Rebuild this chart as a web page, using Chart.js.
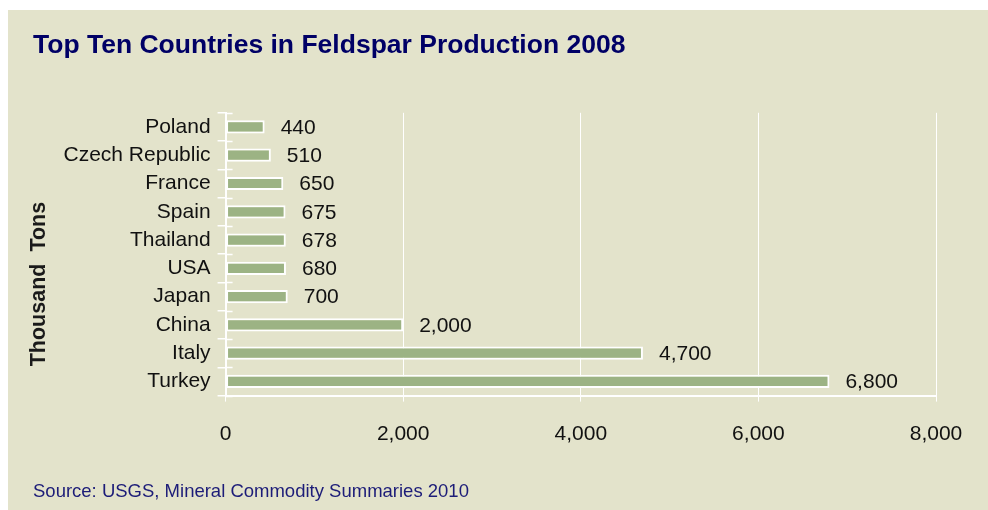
<!DOCTYPE html>
<html>
<head>
<meta charset="utf-8">
<script src="https://cdn.jsdelivr.net/npm/chart.js@4"></script>
<style>
  body { margin: 0; background: #ffffff; }
  #wrap { position: absolute; left: 8px; top: 10px; width: 980px; height: 500px; background: #E3E3CB; }
</style>
</head>
<body>
<div id="wrap"><canvas id="feldsparChart" width="980" height="500"></canvas></div>
<script>
// Feldspar production 2008, thousand tons
const countries = ["Poland", "Czech Republic", "France", "Spain", "Thailand", "USA", "Japan", "China", "Italy", "Turkey"];
const production = [440, 510, 650, 675, 678, 680, 700, 2000, 4700, 6800];
const xTicks = [0, 2000, 4000, 6000, 8000];

const FONT = "'Liberation Sans', Arial, sans-serif";

// value labels to the right of each bar
const valueLabels = {
  id: 'valueLabels',
  afterDatasetsDraw(chart) {
    const ctx = chart.ctx;
    const meta = chart.getDatasetMeta(0);
    ctx.save();
    ctx.font = '21px ' + FONT;
    ctx.fillStyle = '#111111';
    ctx.textAlign = 'left';
    ctx.textBaseline = 'middle';
    meta.data.forEach((bar, i) => {
      ctx.fillText(production[i].toLocaleString('en-US'), bar.x + 16, bar.y + 1);
    });
    ctx.restore();
  }
};

// small tick marks that cross into the plot on the category axis
const crossTicks = {
  id: 'crossTicks',
  afterDraw(chart) {
    const y = chart.scales.y;
    const ctx = chart.ctx;
    const band = (y.bottom - y.top) / countries.length;
    ctx.save();
    ctx.strokeStyle = '#ffffff';
    ctx.lineWidth = 1.5;
    for (let i = 0; i <= countries.length; i++) {
      const py = Math.round(y.top + i * band) + 0.5;
      ctx.beginPath();
      ctx.moveTo(chart.chartArea.left, py);
      ctx.lineTo(chart.chartArea.left + 7, py);
      ctx.stroke();
    }
    ctx.restore();
  }
};

new Chart(document.getElementById('feldsparChart'), {
  type: 'bar',
  data: {
    labels: countries,
    datasets: [{
      data: production,
      backgroundColor: '#9CB384',
      borderColor: '#ffffff',
      borderWidth: 2,
      borderSkipped: false,
      barPercentage: 0.9,
      categoryPercentage: 0.52
    }]
  },
  options: {
    indexAxis: 'y',
    responsive: false,
    animation: false,
    layout: { padding: { left: 25, right: 52, top: 0, bottom: 7 } },
    plugins: {
      legend: { display: false },
      tooltip: { enabled: false },
      title: {
        display: true,
        text: 'Top Ten Countries in Feldspar Production 2008',
        align: 'start',
        color: '#000066',
        font: { family: FONT, size: 26.5, weight: 'bold' },
        padding: { top: 20, bottom: 51 }
      },
      subtitle: {
        display: true,
        position: 'bottom',
        text: 'Source: USGS, Mineral Commodity Summaries 2010',
        align: 'start',
        color: '#1C1C78',
        font: { family: FONT, size: 18.5 },
        padding: { top: 14, bottom: 0 }
      }
    },
    scales: {
      x: {
        min: 0,
        max: 8000,
        afterBuildTicks(scale) { scale.ticks = xTicks.map(v => ({ value: v })); },
        ticks: {
          color: '#111111',
          font: { family: FONT, size: 21 },
          padding: 20,
          maxRotation: 0,
          callback: v => v.toLocaleString('en-US')
        },
        grid: {
          color: '#ffffff',
          lineWidth: 1,
          tickLength: 6,
          tickColor: '#ffffff'
        },
        border: { color: '#ffffff', width: 2 }
      },
      y: {
        ticks: {
          color: '#111111',
          font: { family: FONT, size: 21 },
          padding: 7,
          autoSkip: false
        },
        grid: {
          drawOnChartArea: false,
          color: '#ffffff',
          tickLength: 8,
          lineWidth: 1.5
        },
        border: { color: '#ffffff', width: 2 },
        title: {
          display: true,
          // trailing spaces push the visible text down like the original
          text: 'Thousand  Tons          ',
          color: '#1a1a1a',
          font: { family: FONT, size: 21.5, weight: 'bold', lineHeight: 1 },
          padding: { top: -5, bottom: 7 }
        }
      }
    }
  },
  plugins: [valueLabels, crossTicks]
});
</script>
</body>
</html>
